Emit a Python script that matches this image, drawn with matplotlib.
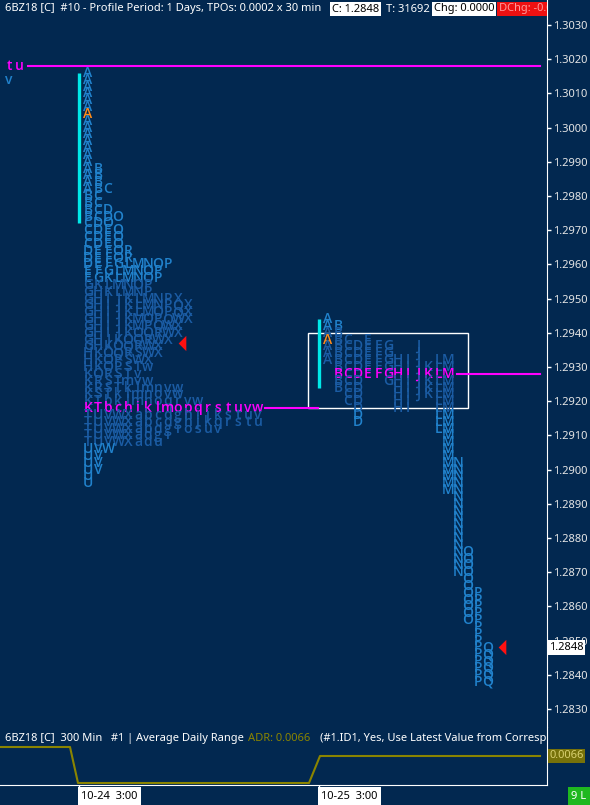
import matplotlib
matplotlib.use('Agg')
import matplotlib.pyplot as plt
from matplotlib.transforms import blended_transform_factory
import numpy as np

# ---- data -----------------------------------------------------------------
tick = 0.0002

# day 1 (10-24) profile, one string of TPO letters per price row, top row first
day1_top = 1.3016
day1_rows = [
    "A", "A", "A", "A", "A", "A", "A", "A", "A", "A", "A", "A", "A", "A",
    "AB", "AB", "AB", "ABC",
    "BC", "BC", "BCD", "BCDO",
    "CDO", "CDEO", "CDEO", "CDEO",
    "DEFOR", "DEFOR", "DEFGLMNOP", "EFGLMNOP", "EGKLMNOP",
    "GKLMNOP", "GHKLMNP", "GHIJKLMNPX", "GHIJKLMNPQX", "GHIJKLMOPQX",
    "GHIJKMOPQWX", "GHIJKMPQWX", "GHIJKOQRWX", "GHJKOQRWX", "GHKOQRWX",
    "HKOQRSWX", "HKOPSWX", "HKOPSTw", "KORSTv", "KRSTmvw",
    "KRSTklmnvw", "KSTklmnovw", "KTbklmnoqrvw", "KTbchiklmopqrstuvw",
    "TUVWXabcdghijkstuv", "TUVWXabcdghjkqrstu", "TUVWXabdgiosuv", "TUVWXadgi", "TUVWXadu",
    "UVW", "UV", "UV", "UV", "U", "U",
]
day1_poc = 1.2918
day1_va = (1.2908, 1.2954)
day1_open = 1.3004
day1_ib = (1.2972, 1.3016)
day1_close = 1.2937

# day 2 (10-25) profile, one column per period
day2_letters = list("ABCDEFGHIJKLMNOPQ")
day2_high = [1.2944, 1.2942, 1.2938, 1.2936, 1.2938, 1.2936, 1.2936, 1.2932, 1.2932,
             1.2936, 1.2930, 1.2932, 1.2932, 1.2902, 1.2876, 1.2864, 1.2848]
day2_low = [1.2932, 1.2924, 1.2920, 1.2914, 1.2928, 1.2928, 1.2926, 1.2918, 1.2918,
            1.2922, 1.2922, 1.2912, 1.2894, 1.2870, 1.2856, 1.2838, 1.2838]
day2_poc = 1.2928
day2_va = (1.2918, 1.2940)
day2_open = 1.2938
day2_ib = (1.2924, 1.2944)
last_price = 1.2848

# previous day tail, visible at the left edge
prev_rows = [(1.3018, "tu"), (1.3014, "v")]
prev_poc = 1.3018

price_ticks = np.arange(1.2830, 1.30305, 0.0010)

# ADR study (hours from 10-24 3:00)
adr_t = [-7.9, -0.9, -0.1, 23.0, 24.1, 46.1]
adr_v = [0.0068, 0.0068, 0.0060, 0.0060, 0.0066, 0.0066]
adr_last = 0.0066
time_ticks = [0, 24]
time_labels = ["10-24  3:00", "10-25  3:00"]

# ---- style ----------------------------------------------------------------
BG = '#022850'
BRIGHT = '#2182cc'
DARK = '#1b5ca4'
MAGENTA = '#ff00ff'
ORANGE = '#ff8c1a'
CYAN = '#00e8e8'
OLIVE = '#8a8400'
UI = 'Noto Sans'
FS = 8
W, H = 590, 805

fig = plt.figure(figsize=(W / 100, H / 100), dpi=100, facecolor=BG)

ax = fig.add_axes([0, 1 - 727 / H, 547 / W, 727 / H], facecolor=BG)
ax.set_xlim(-7.9, 46.8)
ax.set_ylim(1.3030 - 702 / 34200, 1.3030 + 25 / 34200)
for s in ['top', 'left', 'bottom']:
    ax.spines[s].set_visible(False)
ax.spines['right'].set_color('white')
ax.set_xticks([])
ax.yaxis.tick_right()
ax.set_yticks(price_ticks)
ax.set_yticklabels([f"{p:.4f}" for p in price_ticks])
ax.tick_params(axis='y', colors='white', labelcolor='#e6e6e6', length=3, width=1,
               labelsize=FS, pad=1.5)
for lab in ax.get_yticklabels():
    lab.set_family(UI)

col_w = 1.0
letter_kw = dict(ha='center', va='center', fontsize=10, family='Open Sans',
                 fontweight='semibold')


def letter_color(price, ch, poc, va, open_price):
    if np.isclose(price, poc):
        return MAGENTA
    if ch == 'A' and np.isclose(price, open_price):
        return ORANGE
    if va[0] - 1e-9 <= price <= va[1] + 1e-9:
        return DARK
    return BRIGHT


# day 1 profile
x0 = 0.9
for i, row in enumerate(day1_rows):
    p = day1_top - i * tick
    for j, ch in enumerate(row):
        ax.text(x0 + j * col_w, p, ch, color=letter_color(p, ch, day1_poc, day1_va, day1_open),
                **letter_kw)

# day 2 profile
x0 = 24.9
for j, (ch, hi, lo) in enumerate(zip(day2_letters, day2_high, day2_low)):
    n = int(round((hi - lo) / tick))
    for k in range(n + 1):
        p = hi - k * tick
        ax.text(x0 + j * col_w, p, ch, color=letter_color(p, ch, day2_poc, day2_va, day2_open),
                **letter_kw)

# previous day tail
for p, row in prev_rows:
    for j, ch in enumerate(row):
        c = MAGENTA if np.isclose(p, prev_poc) else BRIGHT
        ax.text(-7.0 + j * col_w, p, ch, color=c, **letter_kw)

# initial balance bars
ax.plot([0.0, 0.0], day1_ib, color=CYAN, lw=2.4, solid_capstyle='butt')
ax.plot([24.0, 24.0], day2_ib, color=CYAN, lw=2.4, solid_capstyle='butt')

# naked POC lines
ax.plot([-5.1, 46.1], [prev_poc, prev_poc], color=MAGENTA, lw=1.5)
ax.plot([18.6, 23.9], [day1_poc, day1_poc], color=MAGENTA, lw=1.5)
ax.plot([37.8, 46.1], [day2_poc, day2_poc], color=MAGENTA, lw=1.5)

# day 2 value area box
ax.add_patch(plt.Rectangle((22.9, day2_va[0]), 16.0, day2_va[1] - day2_va[0],
                           fill=False, ec='white', lw=1))

# close markers
tri = [(-0.5, 0), (0.5, 1), (0.5, -1)]
ax.plot([10.3], [day1_close], marker=tri, ms=11, color='#ff1010', mec='none', ls='none')
ax.plot([42.3], [last_price], marker=tri, ms=11, color='#ff1010', mec='none', ls='none')

# last price label on the axis
yb = blended_transform_factory(ax.transAxes, ax.transData)
ax.text(1.004, last_price, f"{last_price:.4f}", transform=yb, ha='left', va='center',
        fontsize=FS, family=UI, color='black',
        bbox=dict(boxstyle='square,pad=0.15', fc='white', ec='none'), zorder=10)

# header line
hy = 1 - 9 / 727
box = dict(boxstyle='square,pad=0.15', fc='white', ec='none')
ax.text(5 / 547, hy, "6BZ18 [C]  #10 - Profile Period: 1 Days, TPOs: 0.0002 x 30 min",
        transform=ax.transAxes, color='white', fontsize=FS, family=UI, va='center')
ax.text(332 / 547, hy, "C: 1.2848", transform=ax.transAxes, color='black', fontsize=FS,
        family=UI, va='center', bbox=box)
ax.text(386 / 547, hy, "T: 31692", transform=ax.transAxes, color='white', fontsize=FS,
        family=UI, va='center')
ax.text(434 / 547, hy, "Chg: 0.0000", transform=ax.transAxes, color='black', fontsize=FS,
        family=UI, va='center', bbox=box)
ax.text(499 / 547, hy, "DChg: -0.0006", transform=ax.transAxes, color='#ff9a9a', fontsize=FS,
        family=UI, va='center', clip_on=True,
        bbox=dict(boxstyle='square,pad=0.15', fc='#ee1111', ec='none'))

# ---- ADR panel -----------------------------------------------------------
ax2 = fig.add_axes([0, 1 - 785 / H, 547 / W, 58 / H], facecolor=BG)
ax2.set_xlim(ax.get_xlim())
ax2.set_ylim(0.0068 - 38 / 45000, 0.0068 + 20 / 45000)
ax2.spines['top'].set_visible(False)
ax2.spines['left'].set_visible(False)
ax2.spines['right'].set_color('white')
ax2.spines['bottom'].set_color('white')
ax2.set_yticks([])
ax2.plot(adr_t, adr_v, color=OLIVE, lw=1.5)
ax2.set_xticks(time_ticks)
ax2.set_xticklabels([])
ax2.tick_params(axis='x', colors='white', length=14.4, width=1, direction='out')

yb2 = blended_transform_factory(ax2.transAxes, ax2.transData)
ax2.text(1.004, adr_last, f"{adr_last:.4f}", transform=yb2, ha='left', va='center',
         fontsize=FS, family=UI, color='#d8d070',
         bbox=dict(boxstyle='square,pad=0.15', fc='#77720a', ec='none'))

ty = 1 - 11 / 58
ax2.text(5 / 547, ty, "6BZ18 [C]  300 Min   #1 | Average Daily Range", transform=ax2.transAxes,
         color='white', fontsize=FS, family=UI, va='center')
ax2.text(248 / 547, ty, f"ADR: {adr_last:.4f}", transform=ax2.transAxes,
         color=OLIVE, fontsize=FS, family=UI, va='center')
ax2.text(320 / 547, ty, "(#1.ID1, Yes, Use Latest Value from Corresponding Day)",
         transform=ax2.transAxes, color='white', fontsize=FS, family=UI, va='center',
         clip_on=True)

xb = blended_transform_factory(ax2.transData, ax2.transAxes)
for t, lab in zip(time_ticks, time_labels):
    ax2.text(t + 0.2, -0.1, lab, transform=xb, ha='left', va='top', fontsize=FS,
             family=UI, color='black',
             bbox=dict(boxstyle='square,pad=0.3', fc='white', ec='none'))

fig.text(579 / W, 1 - 796 / H, "9 L", ha='center', va='center', fontsize=FS, family=UI,
         color='white', bbox=dict(boxstyle='square,pad=0.3', fc='#1fb81f', ec='none'))

fig.savefig('out.png', dpi=100, facecolor=BG)
